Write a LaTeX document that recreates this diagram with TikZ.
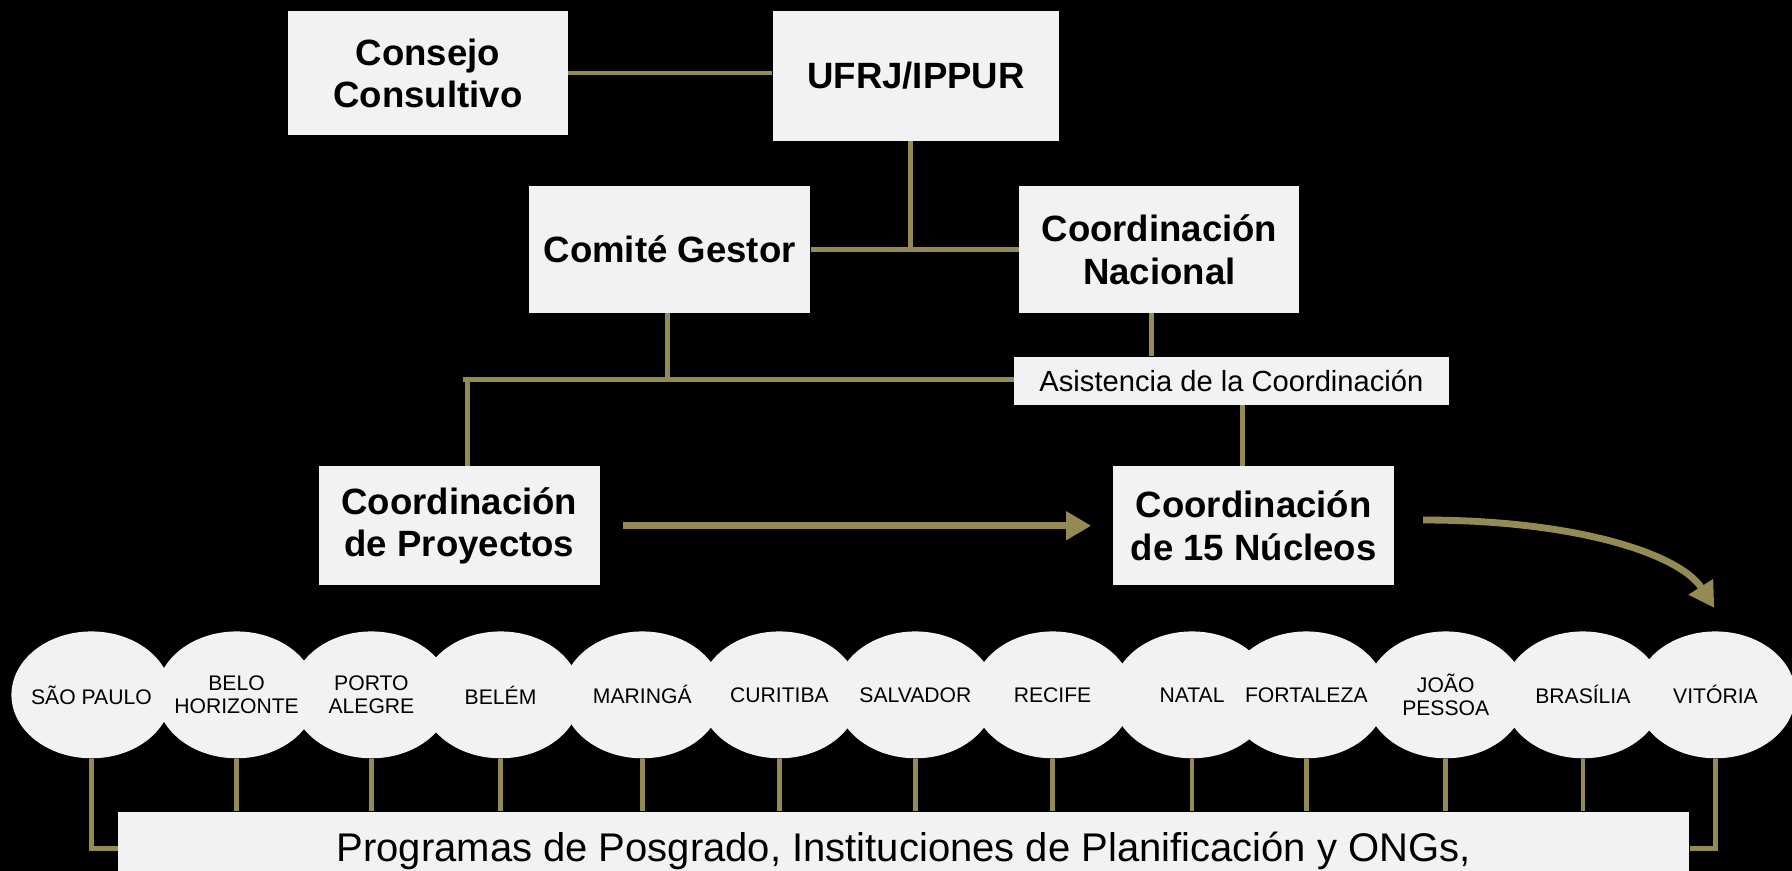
\documentclass[tikz,border=0pt]{standalone}
\usepackage{fontspec}
\setmainfont{Liberation Sans}
\usetikzlibrary{arrows.meta,shapes.geometric}
\definecolor{olivel}{HTML}{948A54}
\definecolor{boxgray}{HTML}{F2F2F2}
\begin{document}
\begin{tikzpicture}[x=1pt,y=-1pt,
  box/.style={fill=boxgray, draw=none, rectangle, align=center, inner sep=0pt,
    font=\fontsize{32}{37}\selectfont\bfseries},
  smallbox/.style={fill=boxgray, draw=none, rectangle, inner sep=0pt,
    font=\fontsize{25.5}{28}\selectfont},
  bigbox/.style={fill=boxgray, draw=none, rectangle, inner sep=0pt,
    font=\fontsize{35}{40}\selectfont, text height=26pt, text depth=9pt},
  cityshape/.style={ellipse, fill=boxgray, draw=none, minimum width=140pt, minimum height=111pt,
    inner sep=0pt},
  citylabel/.style={align=center, inner sep=0pt, font=\fontsize{18.5}{20}\selectfont},
  link/.style={draw=olivel, line width=4pt},
  flow/.style={draw=olivel, line width=6pt, -{Triangle[length=22pt,width=24pt]}}]
\fill[black] (0,0) rectangle (1568,762);
\useasboundingbox (0,0) rectangle (1568,762);

% top boxes
\node[box, minimum width=245pt, minimum height=108pt] (cc) at (374.5,64) {Consejo\\Consultivo};
\node[box, minimum width=251pt, minimum height=113pt] (ufrj) at (801.5,66.5) {UFRJ/IPPUR};
\node[box, minimum width=246pt, minimum height=111pt] (cg) at (586,218.5) {Comité Gestor};
\node[box, minimum width=245pt, minimum height=111pt] (cn) at (1014.5,218.5) {Coordinación\\Nacional};
\node[smallbox, minimum width=381pt, minimum height=42pt] (asis) at (1077.5,333) {Asistencia de la Coordinación};
\node[box, minimum width=246pt, minimum height=104pt] (cp) at (402,460) {Coordinación\\de Proyectos};
\node[box, minimum width=246pt, minimum height=104pt] (c15) at (1097,460) {Coordinación\\de 15 Núcleos};

% connectors between top boxes
\draw[link] (cc.east) -- (cc.east -| ufrj.west);
\draw[link] ([xshift=-5pt]ufrj.south) -- ([xshift=-5pt]ufrj.south |- cg.east);
\draw[link] (cg.east) -- (cn.west);
\coordinate (j1) at (405,332);
\coordinate (j2) at (409,332);
\draw[link] ([xshift=-2pt]cg.south) -- ([xshift=-2pt]cg.south |- j1);
\draw[link] (j1) -- (j1 -| asis.west);
\draw[link] (j2) -- (j2 |- cp.north);
\draw[link] ([xshift=-7pt]cn.south) -- ([xshift=-7pt]cn.south |- asis.north);
\draw[link] ([xshift=9.5pt]asis.south) -- ([xshift=9.5pt]asis.south |- c15.north);

% arrows
\draw[flow] ([xshift=20pt]cp.east) -- ([xshift=-19pt]c15.west);
\coordinate (vt) at (1500,532);
\draw[flow] ([xshift=25pt,yshift=5pt]c15.east) .. controls (1380,455) and (1470,485) .. (vt);

% city shapes (drawn first, labels on top)
\foreach \n/\x in {sp/80,bh/207,pa/325,be/438,ma/562,cu/682,sa/801,re/921,na/1043,fo/1143,jp/1265,br/1385,vi/1501}
  \node[cityshape] (\n) at (\x,608) {};

% city labels
\node[citylabel] (lsp) at (sp) {SÃO PAULO};
\node[citylabel] (lbh) at (bh) {BELO\\HORIZONTE};
\node[citylabel] (lpa) at (pa) {PORTO\\ALEGRE};
\node[citylabel] (lbe) at (be) {BELÉM};
\node[citylabel] (lma) at (ma) {MARINGÁ};
\node[citylabel] (lcu) at (cu) {CURITIBA};
\node[citylabel] (lsa) at (sa) {SALVADOR};
\node[citylabel] (lre) at (re) {RECIFE};
\node[citylabel] (lna) at (na) {NATAL};
\node[citylabel] (lfo) at (fo) {FORTALEZA};
\node[citylabel] (ljp) at (jp) {JOÃO\\PESSOA};
\node[citylabel] (lbr) at (br) {BRASÍLIA};
\node[citylabel] (lvi) at (vi) {VITÓRIA};

% bottom box
\node[bigbox, minimum width=1375pt, minimum height=70pt, anchor=north west] (prog) at (103,710)
  {Programas de Posgrado, Instituciones de Planificación y ONGs,};

% city links
\foreach \c in {bh,pa,be,ma,cu,sa,re,na,fo,jp,br}
  \draw[link] (\c.south) -- (\c.south |- prog.north);
\draw[link] (sp.south) |- ([yshift=3pt]prog.west);
\draw[link] (vi.south) |- ([yshift=3pt]prog.east);
\end{tikzpicture}
\end{document}
